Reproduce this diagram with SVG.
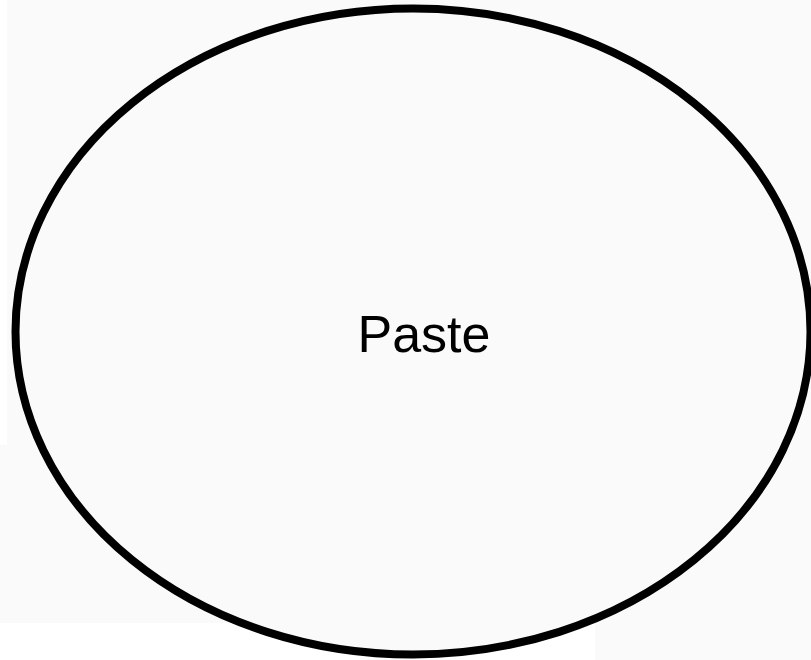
<svg xmlns="http://www.w3.org/2000/svg" width="811" height="660" viewBox="0 0 811 660">
  <style>
    .bg { fill: #fafafa; }
    .node-shape { fill: #fafafa; stroke: #000000; stroke-width: 8; }
    .label { font-family: "Liberation Sans", Arial, sans-serif; font-size: 52px; fill: #000000; }
  </style>
  <rect x="0" y="0" width="811" height="660" fill="#ffffff"/>
  <rect class="bg" x="7" y="0" width="804" height="445"/>
  <rect class="bg" x="0" y="445" width="811" height="178"/>
  <rect class="bg" x="595" y="623" width="216" height="37"/>
  <g id="connectors"></g>
  <g id="node-paste">
    <ellipse class="node-shape" cx="413" cy="331.5" rx="397.5" ry="323"/>
    <text class="label" x="424" y="352" text-anchor="middle">Paste</text>
  </g>
</svg>
